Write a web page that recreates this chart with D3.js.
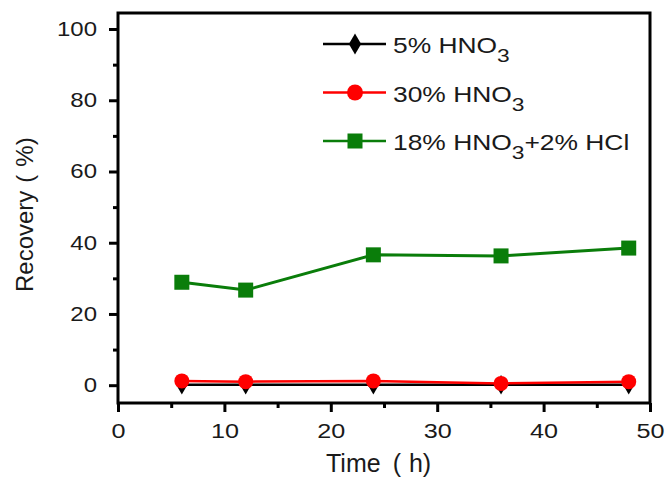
<!DOCTYPE html>
<html><head><meta charset="utf-8">
<script src="https://cdn.jsdelivr.net/npm/d3@7"></script>
<style>body{margin:0;background:#fff}svg{display:block}</style>
</head><body>
<script>
const times = [6, 12, 24, 36, 48];
const hno3_5 = [0.1, 0.1, 0.1, 0.1, 0.1];
const hno3_30 = [1.2, 1.0, 1.2, 0.5, 1.0];
const hno3_hcl = [28.9, 26.7, 36.6, 36.3, 38.5];
const xTicks = [0, 10, 20, 30, 40, 50];
const yTicks = [0, 20, 40, 60, 80, 100];
const seriesNames = ["5% HNO", "30% HNO", "18% HNO"];

const W = 668, H = 486;
const svg = d3.select("body").append("svg").attr("width", W).attr("height", H);
const x = d3.scaleLinear().domain([0, 50]).range([118, 650]);
const y = d3.scaleLinear().domain([-5, 104.5]).range([403, 13]);
const font = "Liberation Sans, Arial, sans-serif";
const ink = "#1a1a1a";

// frame
svg.append("rect").attr("x", 118).attr("y", 13).attr("width", 532).attr("height", 390)
  .attr("fill", "none").attr("stroke", "#000").attr("stroke-width", 3);

// x axis
const xa = svg.append("g").attr("transform", "translate(0,403)")
  .call(d3.axisBottom(x).tickValues(xTicks).tickSize(9).tickSizeOuter(0).tickFormat(d3.format("d")));
xa.select(".domain").remove();
xa.selectAll("line").attr("stroke-width", 3);
xa.selectAll("text").attr("y", 35).attr("dy", null).attr("font-size", 21).attr("font-family", font)
  .attr("fill", ink).attr("transform", "scale(1.2,1)");
const xm = svg.append("g").attr("transform", "translate(0,403)")
  .call(d3.axisBottom(x).tickValues([5, 15, 25, 35, 45]).tickSize(5).tickFormat(""));
xm.select(".domain").remove();
xm.selectAll("line").attr("stroke-width", 3);

// y axis
const ya = svg.append("g").attr("transform", "translate(118,0)")
  .call(d3.axisLeft(y).tickValues(yTicks).tickSize(9).tickSizeOuter(0).tickPadding(8.5).tickFormat(d3.format("d")));
ya.select(".domain").remove();
ya.selectAll("line").attr("stroke-width", 3);
ya.selectAll("text").attr("font-size", 20).attr("font-family", font).attr("fill", ink)
  .attr("transform", "scale(1.2,1)");
const ym = svg.append("g").attr("transform", "translate(118,0)")
  .call(d3.axisLeft(y).tickValues([10, 30, 50, 70, 90]).tickSize(5).tickFormat(""));
ym.select(".domain").remove();
ym.selectAll("line").attr("stroke-width", 3);

// axis titles
const xt = svg.append("text").attr("x", 326).attr("y", 472)
  .attr("font-size", 25).attr("font-family", font).attr("fill", ink);
xt.append("tspan").text("Time");
xt.append("tspan").attr("dx", 12).text("(");
xt.append("tspan").attr("dx", 8).text("h)");
const yt = svg.append("text").attr("transform", "translate(33,292) rotate(-90)")
  .attr("font-size", 24).attr("font-family", font).attr("fill", ink);
yt.append("tspan").text("Recovery");
yt.append("tspan").attr("dx", 8).text("(");
yt.append("tspan").attr("dx", 8).text("%)");

const line = d3.line().x(d => x(d[0])).y(d => y(d[1]));
const zip = v => times.map((t, i) => [t, v[i]]);

// black series
svg.append("path").attr("d", line(zip(hno3_5))).attr("fill", "none").attr("stroke", "#000").attr("stroke-width", 2.5);
svg.selectAll(".dm").data(zip(hno3_5)).enter().append("path")
  .attr("transform", d => `translate(${x(d[0])},${y(d[1])})`)
  .attr("d", d3.symbol(d3.symbolDiamond, 110)).attr("fill", "#000");
// red
svg.append("path").attr("d", line(zip(hno3_30))).attr("fill", "none").attr("stroke", "#f00").attr("stroke-width", 2.5);
svg.selectAll(".ci").data(zip(hno3_30)).enter().append("circle")
  .attr("cx", d => x(d[0])).attr("cy", d => y(d[1])).attr("r", 7.5).attr("fill", "#f00");
// green
svg.append("path").attr("d", line(zip(hno3_hcl))).attr("fill", "none").attr("stroke", "#0a7d0a").attr("stroke-width", 3);
svg.selectAll(".sq").data(zip(hno3_hcl)).enter().append("rect")
  .attr("x", d => x(d[0]) - 7.5).attr("y", d => y(d[1]) - 7.5).attr("width", 15).attr("height", 15).attr("fill", "#0a7d0a");

// legend
const leg = [
  {c: "#000", s: "diamond", name: seriesNames[0], suffix: ""},
  {c: "#f00", s: "circle", name: seriesNames[1], suffix: ""},
  {c: "#0a7d0a", s: "square", name: seriesNames[2], suffix: "+2% HCl"}
];
leg.forEach((l, i) => {
  const cy = 44 + i * 48.5;
  svg.append("line").attr("x1", 323).attr("x2", 386).attr("y1", cy).attr("y2", cy).attr("stroke", l.c).attr("stroke-width", 2.5);
  if (l.s === "diamond") svg.append("path").attr("transform", `translate(355,${cy})`).attr("d", d3.symbol(d3.symbolDiamond, 130)).attr("fill", l.c);
  if (l.s === "circle") svg.append("circle").attr("cx", 355).attr("cy", cy).attr("r", 8).attr("fill", l.c);
  if (l.s === "square") svg.append("rect").attr("x", 347.5).attr("y", cy - 7.5).attr("width", 15).attr("height", 15).attr("fill", l.c);
  const t = svg.append("text").attr("transform", `translate(393,${cy + 9}) scale(1.2,1)`)
    .attr("font-size", 22).attr("font-family", font).attr("fill", ink);
  t.append("tspan").text(l.name);
  t.append("tspan").attr("dy", 9).attr("font-size", 19).text("3");
  if (l.suffix) t.append("tspan").attr("dy", -9).text(l.suffix);
});
</script>
</body></html>
